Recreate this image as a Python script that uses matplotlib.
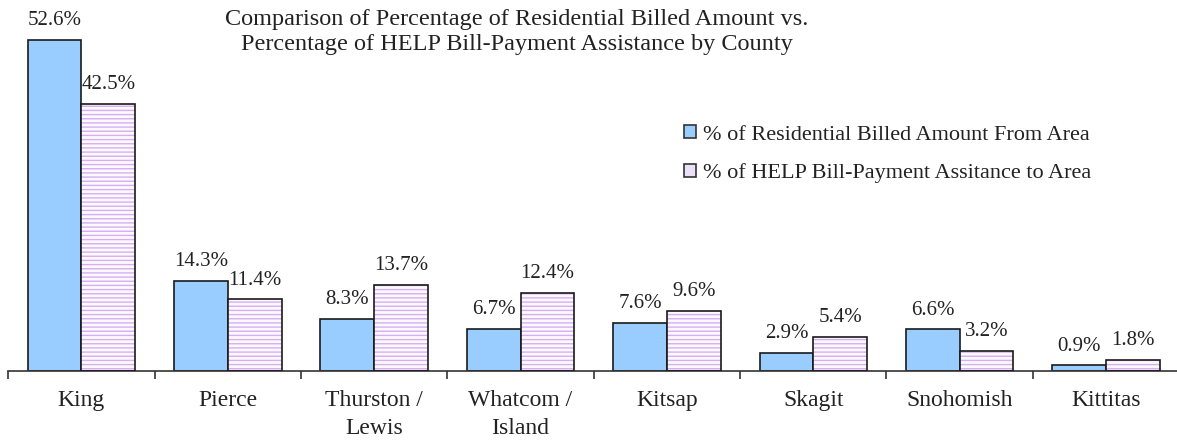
import matplotlib
matplotlib.use("Agg")
import matplotlib.pyplot as plt
from matplotlib.patches import Patch
import numpy as np

categories = ["King", "Pierce", "Thurston /\nLewis", "Whatcom /\nIsland",
              "Kitsap", "Skagit", "Snohomish", "Kittitas"]
billed = [52.6, 14.3, 8.3, 6.7, 7.6, 2.9, 6.6, 0.9]
help_assist = [42.5, 11.4, 13.7, 12.4, 9.6, 5.4, 3.2, 1.8]
series_names = ["% of Residential Billed Amount From Area",
                "% of HELP Bill-Payment Assitance to Area"]
title = ("Comparison of Percentage of Residential Billed Amount vs.\n"
         "Percentage of HELP Bill-Payment Assistance by County")

plt.rcParams['font.family'] = ['Liberation Serif', 'DejaVu Serif']
plt.rcParams['hatch.linewidth'] = 1.0

W, H = 1177, 442
fig = plt.figure(figsize=(W / 100, H / 100), dpi=100)
ax = fig.add_axes([8.3 / W, (H - 371) / H, 1170.9 / W, 346 / H])

x = np.arange(len(categories))
bw = 0.367
blue = '#99ccff'
hatch_col = '#d4b0f0'

ax.bar(x - bw / 2, billed, bw, color=blue, edgecolor='#1a1a1a', linewidth=1.2, zorder=2)
ax.bar(x + bw / 2, help_assist, bw, color='#fdf8fe', edgecolor=hatch_col,
       hatch='----', linewidth=0, zorder=2)
ax.bar(x + bw / 2, help_assist, bw, fill=False, edgecolor='#1a1a1a', linewidth=1.2, zorder=3)

for xi, v in zip(x - bw / 2, billed):
    ax.annotate(f"{v:.1f}%", (xi, v), xytext=(0, 7), textcoords='offset points',
                ha='center', va='bottom', fontsize=15, color='#222222')
for xi, v in zip(x + bw / 2, help_assist):
    ax.annotate(f"{v:.1f}%", (xi, v), xytext=(0, 7), textcoords='offset points',
                ha='center', va='bottom', fontsize=15, color='#222222')

ax.set_xlim(-0.5, len(categories) - 0.5)
ax.set_ylim(0, 55)
ax.set_xticks(x)
ax.set_xticklabels(categories, fontsize=17, color='#222222', linespacing=1.42)
ax.set_xticks(np.arange(len(categories) + 1) - 0.5, minor=True)
ax.tick_params(axis='x', which='major', length=0, pad=14)
ax.tick_params(axis='x', which='minor', length=6, width=1.2, color='#333333')
ax.set_yticks([])
for s in ['left', 'right', 'top']:
    ax.spines[s].set_visible(False)
ax.spines['bottom'].set_linewidth(1.2)
ax.spines['bottom'].set_color('#333333')
ax.patch.set_alpha(0)

fig.text(517 / W, 1 - 32 / H, title, ha='center', va='center', fontsize=17.5,
         color='#222222', linespacing=1.3)

handles = [Patch(facecolor=blue, edgecolor='#333333', linewidth=1.2),
           Patch(facecolor='#ece0f8', edgecolor='#333333', linewidth=1.2)]
fig.legend(handles, series_names, loc='upper left', bbox_to_anchor=(664 / W, 1 - 105 / H),
           frameon=False, fontsize=16, handlelength=0.55, handleheight=0.55,
           handletextpad=0.3, labelspacing=0.85, labelcolor='#222222')

fig.savefig("out.png", dpi=100)
